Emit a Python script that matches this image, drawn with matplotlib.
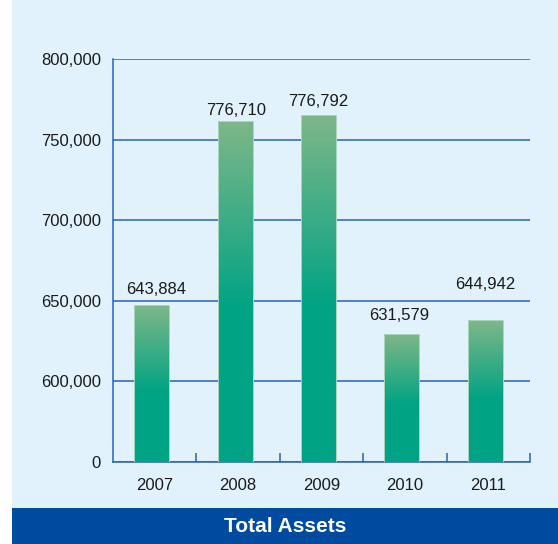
import numpy as np
import matplotlib
matplotlib.use("Agg")
import matplotlib.pyplot as plt
from matplotlib.colors import LinearSegmentedColormap
from matplotlib.patches import Rectangle

# data
years = ["2007", "2008", "2009", "2010", "2011"]
bar_values = [647300, 761300, 765000, 629300, 638000]   # heights as drawn
label_texts = ["643,884", "776,710", "776,792", "631,579", "644,942"]
y_ticks = [0, 600000, 650000, 700000, 750000, 800000]
y_tick_labels = ["0", "600,000", "650,000", "700,000", "750,000", "800,000"]

# label offsets above bar top (dx, dy) in points
label_offsets = [(3, 8), (1, 4.3), (0, 6.5), (-2, 10), (0, 22.3)]

BG = "#e1f2fc"
BAND = "#004b9f"
AXBLUE = "#2a62b3"


# broken axis: 0..600k squeezed into one gridline step
def fwd(v):
    v = np.asarray(v, dtype=float)
    return np.where(v < 600000, v / 600000, 1 + (v - 600000) / 50000)


def inv(t):
    t = np.asarray(t, dtype=float)
    return np.where(t < 1, t * 600000, 600000 + (t - 1) * 50000)


plt.rcParams['font.family'] = ['Liberation Sans', 'DejaVu Sans']

fig = plt.figure(figsize=(5.58, 5.44), dpi=100)
fig.patch.set_facecolor("white")
fig.add_artist(Rectangle((12 / 558, 0), 1, 1, transform=fig.transFigure,
                         facecolor=BG, edgecolor="none", zorder=0))
fig.add_artist(Rectangle((12 / 558, 0), 1, 36 / 544, transform=fig.transFigure,
                         facecolor=BAND, edgecolor="none", zorder=1))
fig.text(285.5 / 558, 18 / 544, "Total Assets", color="white", fontsize=15,
         fontweight="bold", ha="center", va="center", zorder=2)

ax = fig.add_axes([113 / 558, 1 - 462 / 544, 417 / 558, 403 / 544])
ax.set_facecolor("none")
ax.set_yscale("function", functions=(fwd, inv))
ax.set_ylim(0, 800000)
ax.set_xlim(-0.5, 4.5)

cmap = LinearSegmentedColormap.from_list("g", ["#00a383", "#00a383", "#7db688"])
width = 0.42
xs = np.arange(len(years)) - 0.035
for x, h in zip(xs, bar_values):
    tt = np.linspace(0, float(fwd(h)), 200)
    yy = inv(tt)
    frac = tt / tt[-1]
    # colour index: 0 teal up to ~45% height, then ramps to light green at top
    c = np.clip((frac[:-1] + frac[1:]) / 2, 0, 1)
    c = np.clip((c - 0.45) / 0.55, 0, 1) * 0.5 + 0.5 * (c > 0.45)
    c = np.where(c > 0, c, 0)
    ax.pcolormesh([x - width / 2, x + width / 2], yy, c[:, None], cmap=cmap,
                  vmin=0, vmax=1, shading="flat", zorder=3)
ax.bar(xs, bar_values, width=width, facecolor="none", edgecolor="#a9d6bd",
       linewidth=0.7, zorder=4)

for x, h, t, (dx, dy) in zip(xs, bar_values, label_texts, label_offsets):
    ax.annotate(t, (x, h), xytext=(dx, dy), textcoords="offset points",
                ha="center", va="baseline", fontsize=12, color="#1a1a1a")

ax.set_yticks(y_ticks)
ax.set_yticklabels(y_tick_labels, fontsize=12, color="#1a1a1a")
ax.set_xticks(range(len(years)))
ax.set_xticklabels(years, fontsize=12, color="#1a1a1a")
ax.set_xticks([0.5, 1.5, 2.5, 3.5, 4.5], minor=True)
ax.tick_params(axis="y", length=0, pad=8.6)
ax.tick_params(axis="x", which="major", length=0, pad=11.5)
ax.tick_params(axis="x", which="minor", direction="in", length=6.5,
               width=1.1, color=AXBLUE)
ax.yaxis.grid(True, color=AXBLUE, linewidth=1.1)
ax.set_axisbelow(True)
for s in ["top", "right"]:
    ax.spines[s].set_visible(False)
for s in ["left", "bottom"]:
    ax.spines[s].set_color(AXBLUE)
    ax.spines[s].set_linewidth(1.1)

fig.savefig("out.png", dpi=100, facecolor=fig.get_facecolor())
